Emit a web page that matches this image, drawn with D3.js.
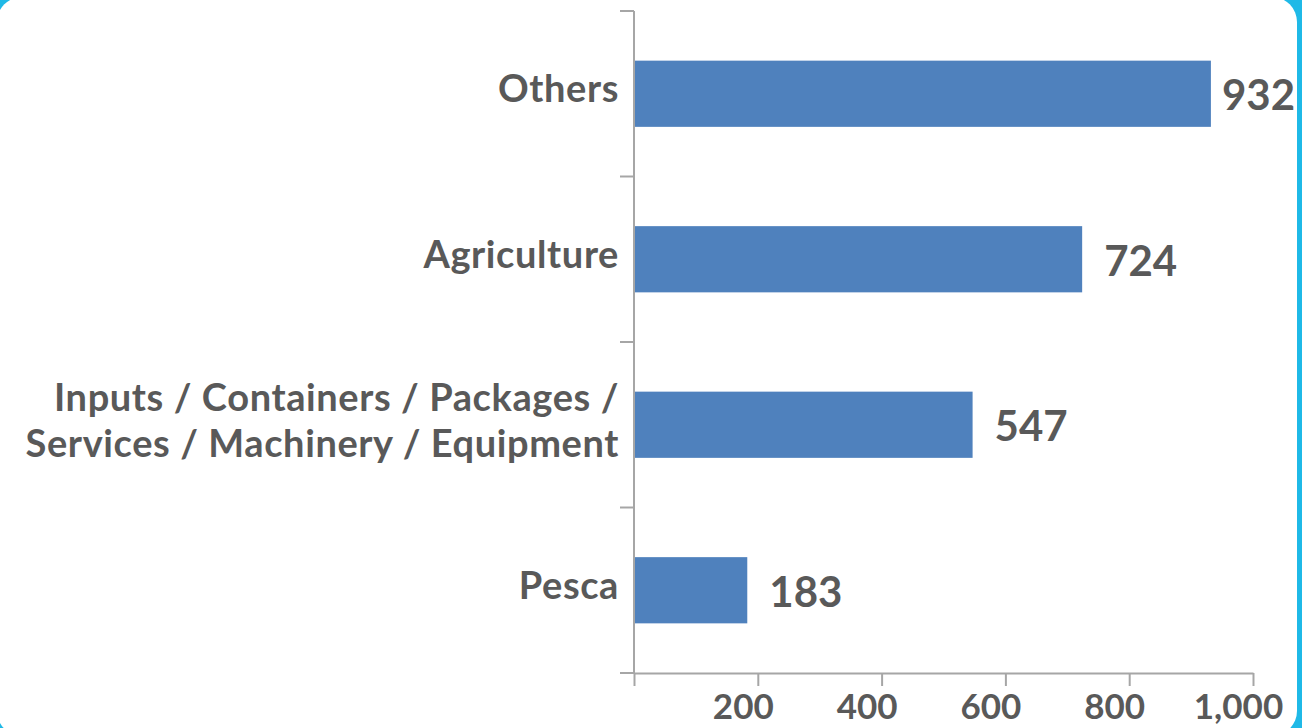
<!DOCTYPE html>
<html>
<head>
<meta charset="utf-8">
<script src="https://cdn.jsdelivr.net/npm/d3@7"></script>
<style>
  html, body { margin: 0; padding: 0; background: #1fb9e7; overflow: hidden; }
  svg { display: block; }
  text { font-family: Lato, "Open Sans", sans-serif; fill: #595959; }
</style>
</head>
<body>
<svg id="chart" width="1302" height="728"></svg>
<script>
// Sector categories, top to bottom
const categories = [
  "Others",
  "Agriculture",
  "Inputs / Containers / Packages /\nServices / Machinery / Equipment",
  "Pesca"
];
const values = [932, 724, 547, 183];
const xTicks = [0, 200, 400, 600, 800, 1000];
const xTickLabels = ["", "200", "400", "600", "800", "1,000"];

const svg = d3.select("#chart");

// white rounded card
svg.append("rect")
  .attr("x", -3).attr("y", -3)
  .attr("width", 1300).attr("height", 739)
  .attr("rx", 25).attr("ry", 25)
  .attr("fill", "#ffffff");

const x = d3.scaleLinear().domain([0, 1000]).range([634, 1253]);
const y = d3.scaleBand().domain(categories).range([11, 673]).paddingInner(0).paddingOuter(0);

const axisColor = "#a6a6a6";
const g = svg.append("g");

// bars
const barFrac = 0.4;
g.selectAll("rect.bar")
  .data(categories)
  .enter().append("rect")
  .attr("class", "bar")
  .attr("x", x(0))
  .attr("y", d => y(d) + y.bandwidth() * (1 - barFrac) / 2)
  .attr("width", (d, i) => x(values[i]) - x(0))
  .attr("height", y.bandwidth() * barFrac)
  .attr("fill", "#4f81bd");

// x axis
const xAxis = d3.axisBottom(x)
  .tickValues(xTicks)
  .tickFormat((d, i) => xTickLabels[i])
  .tickSize(13)
  .tickSizeOuter(0);
const xg = svg.append("g")
  .attr("transform", `translate(0,${y.range()[1]})`)
  .call(xAxis);
xg.select(".domain").attr("stroke", axisColor).attr("stroke-width", 2);
xg.selectAll(".tick line").attr("stroke", axisColor).attr("stroke-width", 2);
xg.selectAll(".tick text")
  .attr("dx", -15)
  .attr("y", 21)
  .attr("dy", "0.71em")
  .style("font-size", "35px")
  .style("font-weight", 700)
  .style("font-family", "Lato, sans-serif")
  .attr("fill", "#595959");

// category axis: vertical line with ticks at band boundaries
const boundaries = categories.map(c => y(c)).concat([y.range()[1]]);
const yg = svg.append("g");
yg.append("line")
  .attr("x1", x(0)).attr("x2", x(0))
  .attr("y1", y.range()[0]).attr("y2", y.range()[1])
  .attr("stroke", axisColor).attr("stroke-width", 2);
yg.selectAll("line.btick")
  .data(boundaries)
  .enter().append("line")
  .attr("class", "btick")
  .attr("x1", x(0) - 14).attr("x2", x(0))
  .attr("y1", d => d).attr("y2", d => d)
  .attr("stroke", axisColor).attr("stroke-width", 2);

// category labels, one text element per line
const lineH = 46;
const labels = svg.append("g");
categories.forEach(c => {
  const lines = c.split("\n");
  const cy = y(c) + y.bandwidth() / 2 - 5 + (lines.length > 1 ? 1 : 0);
  lines.forEach((ln, k) => {
    labels.append("text")
      .attr("text-anchor", "end")
      .attr("x", 619)
      .attr("y", cy + (k - (lines.length - 1) / 2) * lineH)
      .attr("dy", "0.36em")
      .style("font-size", "38px")
      .style("font-weight", 700)
      .style("letter-spacing", "0.6px")
      .text(ln);
  });
});

// value labels
const vals = svg.append("g");
categories.forEach((c, i) => {
  const t = vals.append("text")
    .attr("y", y(c) + y.bandwidth() / 2 + 1.5)
    .attr("dy", "0.36em")
    .style("font-size", "42px")
    .style("font-weight", 700)
    .text(d3.format(",")(values[i]));
  const w = t.node().getComputedTextLength();
  const xs = Math.min(x(values[i]) + 22, 1295 - w);
  t.attr("x", xs);
});
</script>
</body>
</html>
